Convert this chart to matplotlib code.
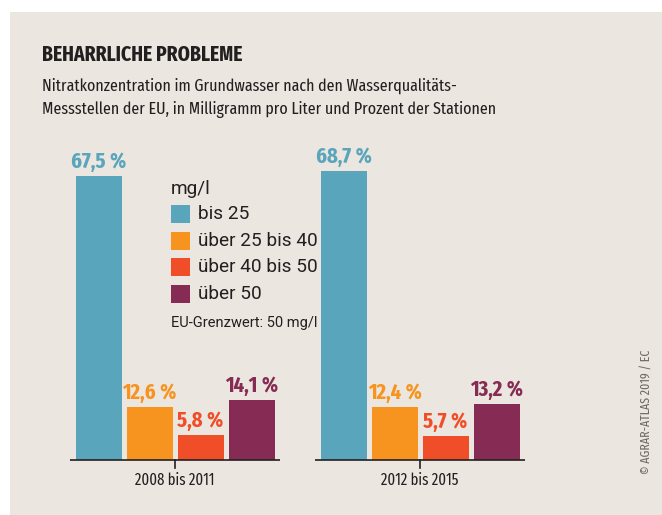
import matplotlib.pyplot as plt
from matplotlib.patches import Rectangle

# Nitrate concentration in groundwater, share of EU monitoring stations
periods = ["2008 bis 2011", "2012 bis 2015"]
classes = ["bis 25", "über 25 bis 40", "über 40 bis 50", "über 50"]
share_2008 = [67.5, 12.6, 5.8, 14.1]
share_2012 = [68.7, 12.4, 5.7, 13.2]
colors = ["#58a5bc", "#f6941f", "#f04e28", "#862c54"]

bg = "#ebe6df"
ink = "#231f20"
W, H = 662, 515
narrow = ['Fira Sans Extra Condensed', 'DejaVu Sans']
plain = ['Roboto', 'DejaVu Sans']
plt.rcParams['font.family'] = narrow


def fx(x):
    return x / W


def fy(y):
    return 1 - y / H


fig = plt.figure(figsize=(W / 100, H / 100), dpi=100)
fig.patch.set_facecolor("white")
fig.patches.append(Rectangle((fx(10), 0), 1, fy(12), transform=fig.transFigure,
                             facecolor=bg, edgecolor="none", zorder=-1))

# axes: baseline at y=459.5 px, group centres at 175 px and 420 px, 4.2 px per %
left, right, top, base = 60, 560, 140, 459.5
scale = 4.2
ax = fig.add_axes([fx(left), fy(base), fx(right - left), fy(top) - fy(base)])
ax.set_facecolor("none")
unit = 245.0
ax.set_xlim(-(175 - left) / unit, 1 + (right - 420) / unit)
ax.set_ylim(0, (base - top) / scale)
for s in ax.spines.values():
    s.set_visible(False)
ax.set_xticks([])
ax.set_yticks([])

pitch = 51 / unit
width = 46 / unit
for g, vals in enumerate([share_2008, share_2012]):
    for i, v in enumerate(vals):
        x = g + (i - 1.5) * pitch
        ax.bar(x, v, width=width, color=colors[i], zorder=2)
        lbl = f"{v:.1f}".replace(".", ",") + "\u2009%"
        ax.annotate(lbl, (x, v), xytext=(0, 2.5), textcoords="offset points",
                    ha="center", va="bottom", fontsize=16, fontweight="bold",
                    color=colors[i])
    ax.plot([g - 105 / unit, g + 105 / unit], [0, 0], color=ink, lw=1.2,
            zorder=3, clip_on=False, solid_capstyle="butt")
    ax.plot([g, g], [0, -8 / scale], color=ink, lw=1.2, clip_on=False)
    ax.text(g, -21 / scale, periods[g], ha="center", va="center",
            fontsize=11.5, color=ink)

# title and subtitle
fig.text(fx(42), fy(55), "BEHARRLICHE PROBLEME", fontsize=15.3, fontweight="bold",
         color=ink, va="center")
fig.text(fx(42), fy(86), "Nitratkonzentration im Grundwasser nach den Wasserqualitäts-",
         fontsize=12.5, color=ink, va="center")
fig.text(fx(42), fy(109), "Messstellen der EU, in Milligramm pro Liter und Prozent der Stationen",
         fontsize=12.5, color=ink, va="center")

# legend
fig.text(fx(171), fy(189), "mg/l", fontsize=13.7, color=ink, va="center", family=plain)
for i, name in enumerate(classes):
    ytop = 205 + i * 26.7
    fig.patches.append(Rectangle((fx(171), fy(ytop + 18)), fx(19), fy(0) - fy(18),
                                 transform=fig.transFigure, facecolor=colors[i],
                                 edgecolor="none"))
    fig.text(fx(198), fy(ytop + 9), name, fontsize=13.7, color=ink, va="center",
             family=plain)
fig.text(fx(171), fy(323), "EU-Grenzwert: 50 mg/l", fontsize=10.5, color=ink,
         va="center", family=plain)

fig.text(fx(646), fy(412), "© AGRAR-ATLAS 2019 / EC", rotation=90, fontsize=9.3,
         color="#6d6a67", ha="center", va="center")

fig.savefig("out.png", dpi=100, facecolor=fig.get_facecolor())
